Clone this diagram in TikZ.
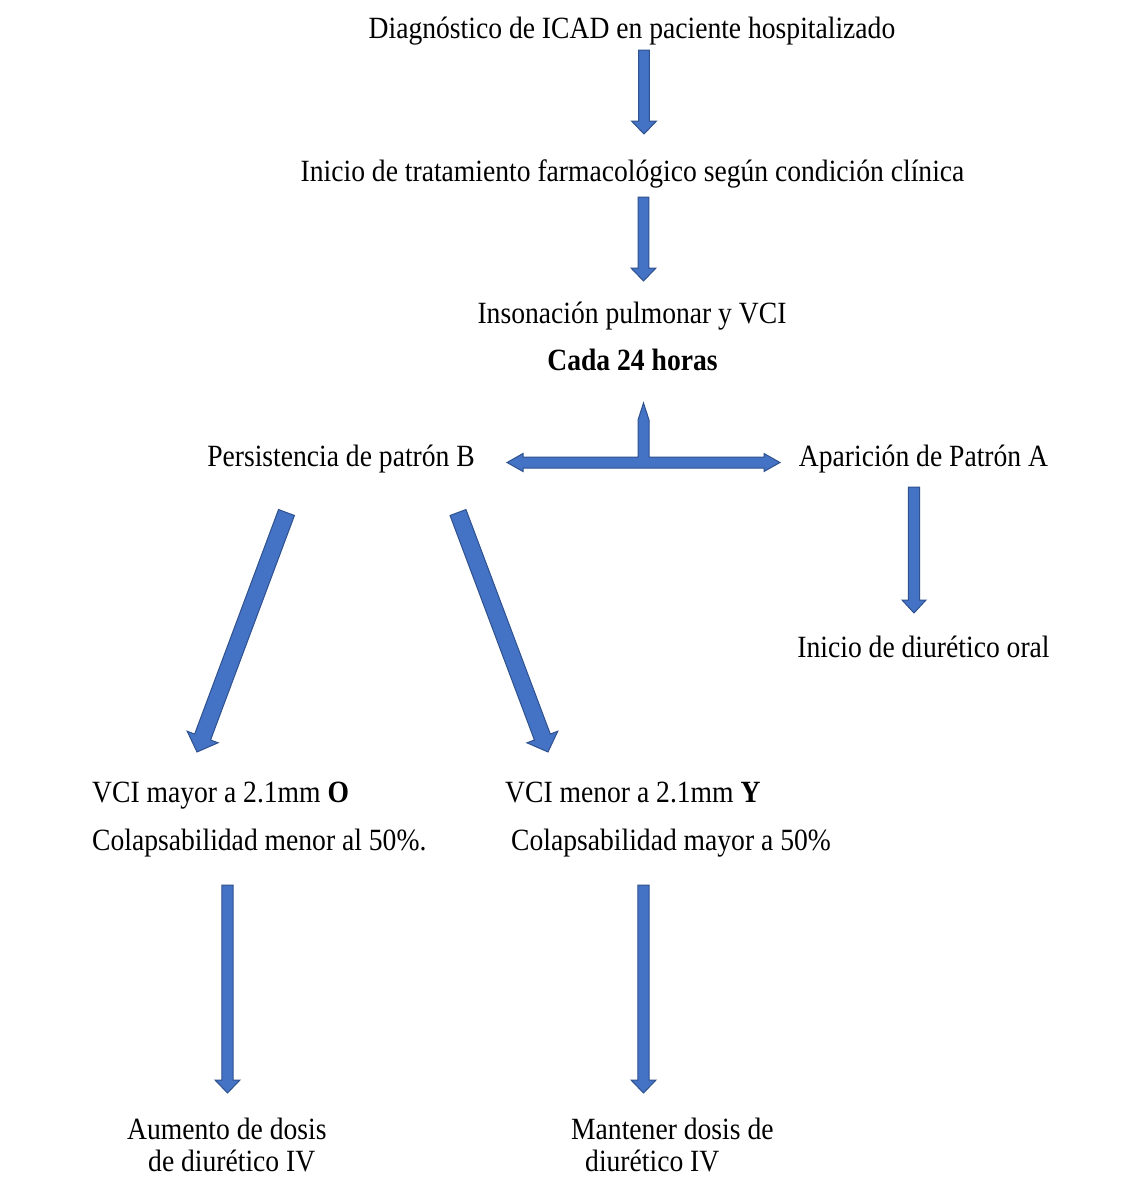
\documentclass[tikz,border=0pt]{standalone}
\usepackage{fontspec}
\usepackage{graphicx}
\setmainfont{Liberation Serif}
\usetikzlibrary{calc}
\definecolor{afill}{HTML}{4472C4}
\definecolor{aline}{HTML}{2F528F}
\tikzset{
  txt/.style={font=\fontsize{27.6}{32}\selectfont, inner sep=0pt, anchor=base},
  txtl/.style={txt, anchor=base west},
  barrow/.style={fill=afill, draw=aline, line width=1pt, line join=miter},
}
\newcommand\tx[1]{\scalebox{1}[1.12]{#1}}
% block arrow from coordinate #1 to coordinate #2; #3 shaft half width, #4 head half width, #5 head length
\newcommand\blockarrow[5]{%
  \path (#1); \pgfgetlastxy{\bax}{\bay}%
  \path (#2); \pgfgetlastxy{\bbx}{\bby}%
  \pgfmathsetmacro\bang{atan2(\bby-\bay,\bbx-\bax)}%
  \pgfmathsetmacro\blen{veclen(\bbx-\bax,\bby-\bay)}%
  \begin{scope}[shift={(\bax,\bay)}, rotate=\bang]
    \draw[barrow] (0pt,#3pt) -- ({\blen pt-#5pt},#3pt) -- ({\blen pt-#5pt},#4pt)
      -- ({\blen pt},0pt) -- ({\blen pt-#5pt},-#4pt) -- ({\blen pt-#5pt},-#3pt)
      -- (0pt,-#3pt) -- cycle;
  \end{scope}%
}
\begin{document}
\begin{tikzpicture}[x=1pt,y=-1pt]
\useasboundingbox[fill=white] (0,0) rectangle (1143,1197);

% texts
\node[txt] (diag) at (632,38) {\tx{Diagnóstico de ICAD en paciente hospitalizado}};
\node[txt] (trat) at (632.5,181) {\tx{Inicio de tratamiento farmacológico según condición clínica}};
\node[txt] (inso) at (632,323) {\tx{Insonación pulmonar y VCI}};
\node[txt] (cada) at (632.5,370) {\tx{\textbf{Cada 24 horas}}};
\node[txt] (persB) at (341,466) {\tx{Persistencia de patrón B}};
\node[txt] (apA) at (923.5,466) {\tx{Aparición de Patrón A}};
\node[txt] (oral) at (923.5,657) {\tx{Inicio de diurético oral}};
\node[txtl] (mayor) at (92,802) {\tx{VCI mayor a 2.1mm \textbf{O}}};
\node[txtl] (colm) at (92,850) {\tx{Colapsabilidad menor al 50\%.}};
\node[txtl] (menor) at (505,802) {\tx{VCI menor a 2.1mm \textbf{Y}}};
\node[txtl] (colM) at (511,850) {\tx{Colapsabilidad mayor a 50\%}};
\node[txtl] (aum1) at (127,1139) {\tx{Aumento de dosis}};
\node[txtl] (aum2) at (148,1171) {\tx{de diurético IV}};
\node[txtl] (man1) at (571,1139) {\tx{Mantener dosis de}};
\node[txtl] (man2) at (585,1171) {\tx{diurético IV}};

% arrow end points
\coordinate (a1s) at (644,50);   \coordinate (a1e) at (644,134);
\coordinate (a2s) at (643.5,197); \coordinate (a2e) at (643.5,281);
\coordinate (dls) at (286.5,512.5); \coordinate (dle) at (197,752);
\coordinate (drs) at (458,512.5); \coordinate (dre) at (548,752);
\coordinate (ras) at (914,487);  \coordinate (rae) at (914,613);
\coordinate (bls) at (227.5,885); \coordinate (ble) at (227.5,1093);
\coordinate (brs) at (643.5,885); \coordinate (bre) at (643.5,1093);

\blockarrow{a1s}{a1e}{5.4}{12.5}{13}
\blockarrow{a2s}{a2e}{5.4}{12.5}{13}
\blockarrow{dls}{dle}{8.5}{16.5}{16}
\blockarrow{drs}{dre}{8.5}{16.5}{16}
\blockarrow{ras}{rae}{5.7}{12}{13}
\blockarrow{bls}{ble}{5.7}{12.5}{13}
\blockarrow{brs}{bre}{5.7}{12.5}{13}

% three-way arrow
\coordinate (tL) at (507,462.5);
\coordinate (tR) at (780,462.5);
\coordinate (tU) at (643.5,403);
\draw[barrow] (523,457) -- (638,457) -- (638,420) -- (tU) -- (649,420) -- (649,457)
  -- (764,457) -- (764,453.5) -- (tR) -- (764,471.5) -- (764,468)
  -- (523,468) -- (523,471.5) -- (tL) -- (523,453.5) -- cycle;
\end{tikzpicture}
\end{document}
